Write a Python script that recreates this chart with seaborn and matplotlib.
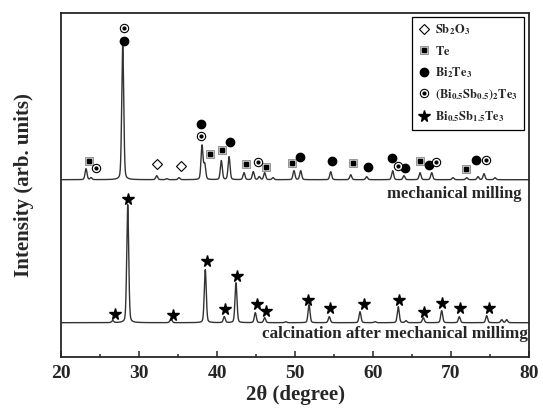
import matplotlib
matplotlib.use("Agg")
import matplotlib.pyplot as plt
from matplotlib.lines import Line2D
from matplotlib.legend_handler import HandlerTuple
import numpy as np
import pandas as pd
import seaborn as sns

# peak list of the milled powder (2theta, height)
milled_pos = [23.17, 23.81, 27.88, 32.24, 33.52, 35.10, 38.05, 38.40, 40.53, 41.52,
              43.44, 44.63, 45.40, 46.09, 47.16, 49.85, 50.71, 54.56, 57.13, 59.18,
              62.51, 63.96, 66.02, 67.52, 70.25, 72.01, 73.46, 74.23, 75.64]
milled_h = [11, 2, 135, 4, 1, 2, 34, 15, 19, 23,
            7, 8, 3, 7, 2, 9, 9, 8, 5, 3,
            9, 4, 7, 7, 2, 2, 3, 6, 2]
milled_base = 177

# peak list after calcination
calc_pos = [26.59, 28.52, 34.07, 38.47, 40.91, 42.41, 44.89, 46.09, 48.79, 51.78,
            54.38, 58.32, 60.24, 63.23, 64.22, 66.44, 68.80, 71.06, 74.57, 76.50, 77.14]
calc_h = [2, 118, 4, 53, 6, 40, 10, 5, 1, 18,
          6, 11, 1, 16, 2, 5, 12, 6, 7, 3, 3]
calc_base = 34

# phase markers (2theta, y)
sb2o3_x = [32.27, 35.32]
sb2o3_y = [193, 191]
te_x = [23.52, 39.04, 40.65, 43.73, 46.30, 49.63, 57.46, 66.02, 71.92]
te_y = [196, 203, 207, 193, 190, 194, 194, 196, 188]
bt_x = [28.05, 37.96, 41.64, 50.62, 54.69, 59.38, 62.39, 64.09, 67.17, 73.16]
bt_y = [316, 233, 215, 200, 196, 190, 199, 189, 192, 197]
bst55_x = [24.45, 28.05, 37.96, 45.23, 63.23, 68.07, 74.45]
bst55_y = [189, 329, 221, 195, 191, 195, 197]
bst15_x = [26.93, 28.52, 34.37, 38.65, 41.04, 42.58, 45.14, 46.30, 51.65, 54.47,
           58.83, 63.36, 66.57, 68.80, 71.19, 74.87]
bst15_y = [43, 158, 42, 96, 48, 81, 53, 46, 57, 49, 53, 57, 45, 54, 49, 49]


def pattern(x, pos, h, base, fwhm=0.3, eta=0.25):
    """Sum of pseudo-Voigt peaks on a flat baseline."""
    y = np.full_like(x, float(base))
    for p, a in zip(pos, h):
        d = (x - p) / (fwhm / 2)
        y += a * (eta / (1 + d ** 2) + (1 - eta) * np.exp(-np.log(2) * d ** 2))
    return y


sns.set_style("ticks")
plt.rcParams["font.family"] = ["Liberation Serif", "DejaVu Serif"]
plt.rcParams["font.weight"] = "bold"
plt.rcParams["mathtext.fontset"] = "stix"

two_theta = np.linspace(20, 80, 4000)
df = pd.DataFrame({
    "two_theta": np.concatenate([two_theta, two_theta]),
    "intensity": np.concatenate([pattern(two_theta, milled_pos, milled_h, milled_base),
                                 pattern(two_theta, calc_pos, calc_h, calc_base)]),
    "sample": ["milled"] * len(two_theta) + ["calcined"] * len(two_theta),
})

fig = plt.figure(figsize=(5.43, 4.12), dpi=100)
ax = fig.add_axes([0.1129, 0.1342, 0.8613, 0.8335])
sns.lineplot(data=df, x="two_theta", y="intensity", units="sample", estimator=None,
             color="#333333", lw=1.0, ax=ax, legend=False)

ms = 5.5
ax.plot(sb2o3_x, sb2o3_y, ls="none", marker="D", ms=5.5, mfc="white", mec="black", mew=0.8)
ax.plot(te_x, te_y, ls="none", marker="s", ms=ms, mfc="#cccccc", mec="#888888", mew=0.6)
ax.plot(te_x, te_y, ls="none", marker="s", ms=2.6, mfc="black", mec="black")
ax.plot(bt_x, bt_y, ls="none", marker="o", ms=ms + 0.5, mfc="black", mec="black")
ax.plot(bst55_x, bst55_y, ls="none", marker="o", ms=ms + 0.5, mfc="white", mec="black", mew=0.8)
ax.plot(bst55_x, bst55_y, ls="none", marker="o", ms=2, mfc="black", mec="black")
ax.plot(bst15_x, bst15_y, ls="none", marker="*", ms=8.5, mfc="black", mec="black")

ax.text(0.985, 0.475, "mechanical milling", transform=ax.transAxes, ha="right",
        va="center", fontsize=12, fontweight="bold")
ax.text(0.997, 0.066, "calcination after mechanical millimg", transform=ax.transAxes,
        ha="right", va="center", fontsize=12.3, fontweight="bold")

h_sb = Line2D([], [], ls="none", marker="D", ms=5.5, mfc="white", mec="black", mew=0.8)
h_te = (Line2D([], [], ls="none", marker="s", ms=ms, mfc="#cccccc", mec="#888888", mew=0.6),
        Line2D([], [], ls="none", marker="s", ms=2.6, mfc="black", mec="black"))
h_bt = Line2D([], [], ls="none", marker="o", ms=ms + 0.5, mfc="black", mec="black")
h_55 = (Line2D([], [], ls="none", marker="o", ms=ms + 0.5, mfc="white", mec="black", mew=0.8),
        Line2D([], [], ls="none", marker="o", ms=2, mfc="black", mec="black"))
h_15 = Line2D([], [], ls="none", marker="*", ms=8.5, mfc="black", mec="black")
labels = [r"$\mathbf{Sb_2O_3}$", r"$\mathbf{Te}$", r"$\mathbf{Bi_2Te_3}$",
          r"$\mathbf{(Bi_{0.5}Sb_{0.5})_2Te_3}$", r"$\mathbf{Bi_{0.5}Sb_{1.5}Te_3}$"]
leg = ax.legend([h_sb, h_te, h_bt, h_55, h_15], labels,
                handler_map={tuple: HandlerTuple(ndivide=1, pad=0)},
                loc="upper right", bbox_to_anchor=(0.989, 0.990), borderaxespad=0,
                fontsize=9, handlelength=1.0, handletextpad=0.4, labelspacing=0.6,
                fancybox=False, edgecolor="black", framealpha=1, borderpad=0.45)
leg.get_frame().set_linewidth(0.9)

ax.set_xlim(20, 80)
ax.set_ylim(0, 343.4)
ax.set_yticks([])
ax.set_xticks(np.arange(20, 81, 10))
ax.set_xticks(np.arange(25, 80, 10), minor=True)
ax.tick_params(axis="x", which="major", direction="in", length=4.5, width=1.1,
               labelsize=14, pad=6, top=False)
ax.tick_params(axis="x", which="minor", direction="in", length=2.5, width=1.1, top=False)
for lab in ax.get_xticklabels():
    lab.set_fontweight("bold")
for sp in ax.spines.values():
    sp.set_linewidth(1.3)
    sp.set_visible(True)

ax.set_xlabel("2θ (degree)", fontsize=15, fontweight="bold", labelpad=2)
ax.set_ylabel("Intensity (arb. units)", fontsize=15, fontweight="bold", labelpad=20)

fig.savefig("out.png", dpi=100)
